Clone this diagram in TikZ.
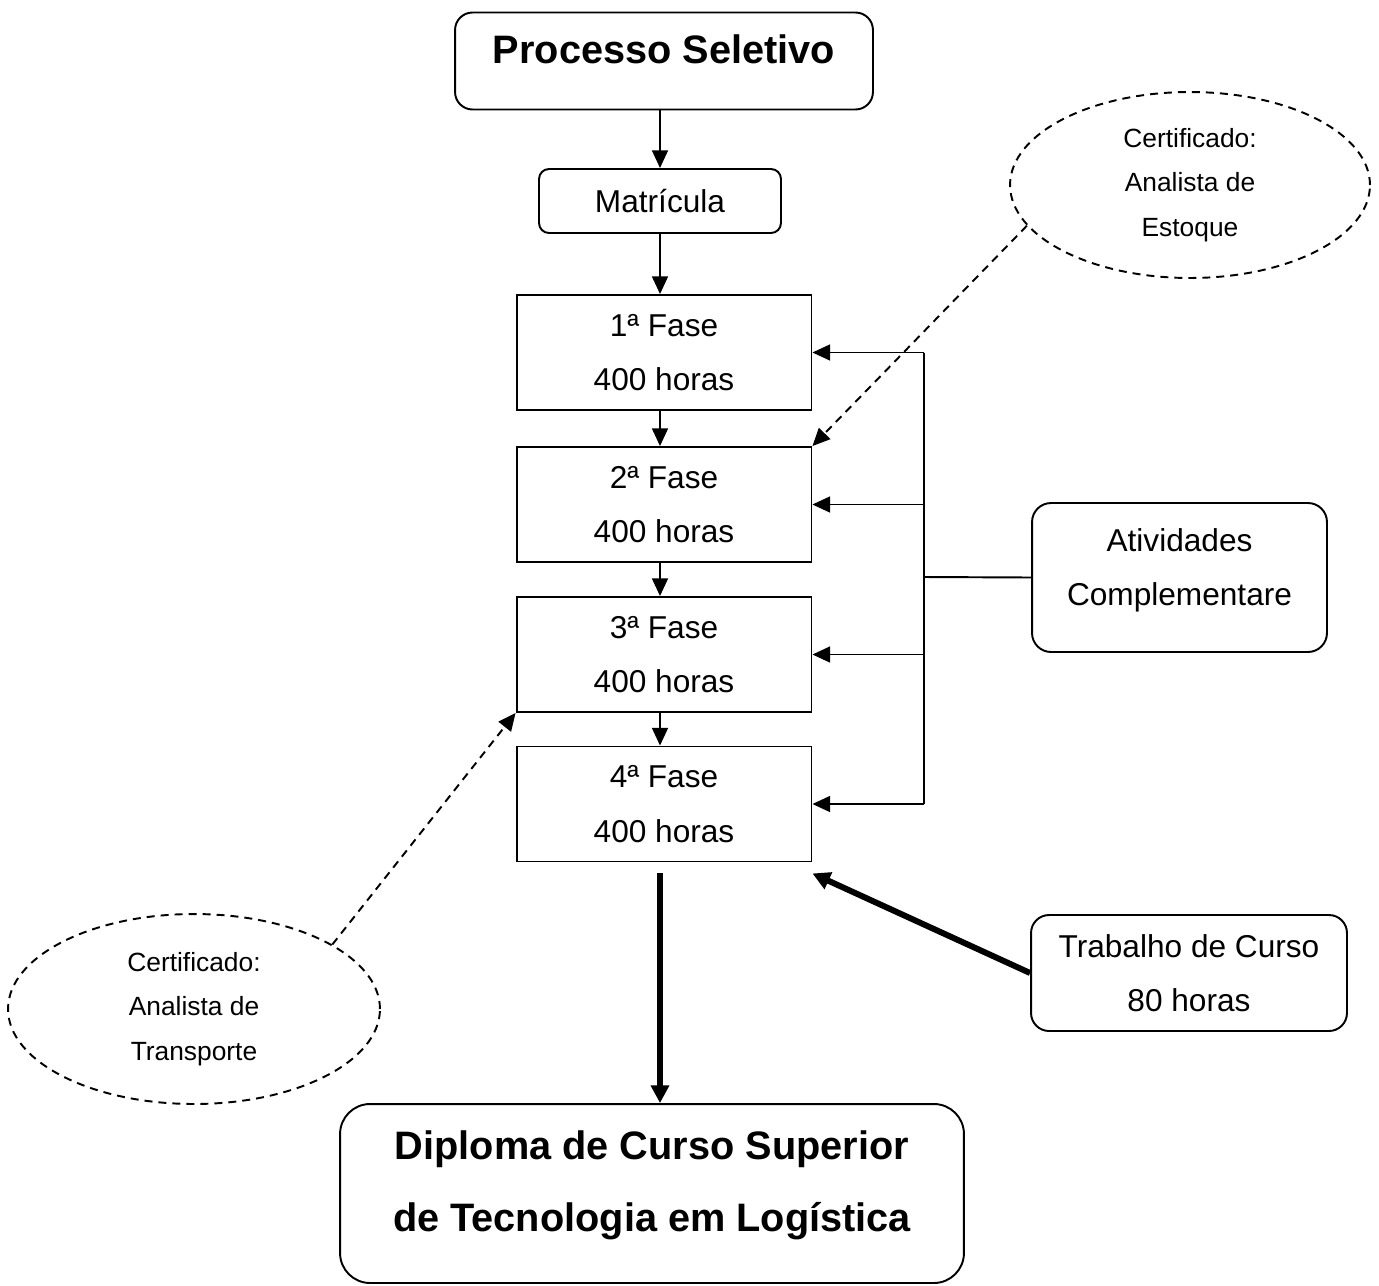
\documentclass[tikz,border=0pt]{standalone}
\usepackage{fontspec}
\setmainfont{Liberation Sans}
\usetikzlibrary{arrows.meta,shapes.geometric}
\begin{document}
\begin{tikzpicture}[x=0.02cm,y=-0.02cm,inner sep=0pt,line width=1.1pt,
>={Triangle[length=10pt,width=9pt]},
faseblock/.style={draw,rectangle,minimum width=5.9cm,minimum height=2.3cm,align=center,font=\fontsize{18}{31}\selectfont},
roundblock/.style={draw,rectangle,rounded corners=0.3cm,align=center,font=\fontsize{18}{31}\selectfont},
titleblock/.style={roundblock,rounded corners=0.35cm,font=\fontsize{22.6}{41}\selectfont\bfseries},
certblock/.style={draw,ellipse,dash pattern=on 0.16cm off 0.12cm,align=center,font=\fontsize{15}{25.5}\selectfont},
certarrow/.style={->,dash pattern=on 0.16cm off 0.12cm},
bigarrow/.style={line width=3.4pt,-{Triangle[length=10pt,width=10pt]}}]
\useasboundingbox (0,0) rectangle (1379,1285);
% blocos principais
\draw (664,61) node[titleblock,minimum width=8.36cm,minimum height=1.94cm,text height=16.5pt,text depth=14pt] (proc) {Processo Seletivo};
\draw (660,201) node[roundblock,rounded corners=0.2cm,minimum width=4.84cm,minimum height=1.28cm] (mat) {Matrícula};
\draw (664,352.5) node[faseblock] (f1) {1ª Fase\\400 horas};
\draw (664,504.5) node[faseblock] (f2) {2ª Fase\\400 horas};
\draw (664,654.5) node[faseblock] (f3) {3ª Fase\\400 horas};
\draw (664,804) node[faseblock] (f4) {4ª Fase\\400 horas};
\draw (1179.5,577.5) node[roundblock,rounded corners=0.38cm,minimum width=5.9cm,minimum height=2.98cm] (ativ) {Atividades\\Complementare\rule[-11.8pt]{0pt}{0pt}};
\draw (1189,973) node[roundblock,rounded corners=0.36cm,minimum width=6.32cm,minimum height=2.32cm] (trab) {Trabalho de Curso\\80 horas};
\draw (652,1193.5) node[titleblock,rounded corners=0.6cm,minimum width=12.48cm,minimum height=3.58cm] (dipl) {Diploma de Curso Superior\\de Tecnologia em Logística\rule[-13.7pt]{0pt}{0pt}};
% certificados
\draw (1190,185) node[certblock,minimum width=7.2cm,minimum height=3.72cm] (est) {Certificado:\\Analista de\\Estoque};
\draw (194,1009) node[certblock,minimum width=7.44cm,minimum height=3.8cm] (tra) {Certificado:\\Analista de\\Transporte};
% ligacoes
\coordinate (bus) at (924,577);
\draw[->] (proc.south -| mat) -- (mat);
\draw[->] (mat) -- (mat |- f1.north);
\foreach \a/\b in {f1/f2,f2/f3,f3/f4}
  \draw[->] (\a.south -| mat) -- (\b.north -| mat);
\draw (bus |- f1.east) -- (bus |- f4.east);
\foreach \f in {f1,f2,f3,f4}
  \draw[->] (bus |- \f.east) -- (\f.east);
\draw (bus) -- (ativ.west);
\draw[certarrow] (est.194) -- (f2.north east);
\draw[certarrow] (tra.25) -- (f3.south west);
\draw[bigarrow,shorten <=0.22cm] (f4.south -| mat) -- (dipl.north -| mat);
\draw[bigarrow] (trab.west) -- ([yshift=-0.22cm]f4.south east);
\end{tikzpicture}
\end{document}
